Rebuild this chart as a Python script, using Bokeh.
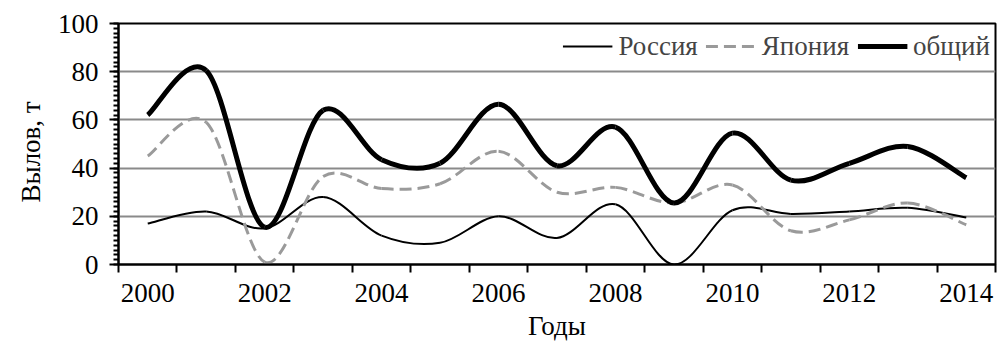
from bokeh.plotting import figure
from bokeh.models import FixedTicker, Legend, LegendItem, ColumnDataSource, Title
from bokeh.embed import file_html
from bokeh.resources import INLINE

years = list(range(2000, 2015))
tick_labels = ["2000", "2002", "2004", "2006", "2008", "2010", "2012", "2014"]
russia = [17, 22, 15, 28, 12, 9, 20, 11, 25, 0, 22.5, 21, 22, 23.5, 19.5]
japan = [45, 59, 1, 36.5, 31.5, 33.5, 47, 30, 32, 25.5, 33, 14, 18.5, 25.5, 16.5]
total = [62, 80.5, 15.5, 64, 43.5, 42, 66.5, 41, 57, 25.5, 54.5, 35, 42, 49, 36]
x_title = "Годы"
y_title = "Вылов, т"

FONT = "'Liberation Serif', 'Times New Roman', serif"
FS = "27px"


def smooth_source(xs, ys):
    n = len(xs)
    d = dict(x0=[], y0=[], x1=[], y1=[], cx0=[], cy0=[], cx1=[], cy1=[])
    for i in range(n - 1):
        pm = max(i - 1, 0)
        pp = min(i + 2, n - 1)
        d["x0"].append(xs[i]); d["y0"].append(ys[i])
        d["x1"].append(xs[i + 1]); d["y1"].append(ys[i + 1])
        d["cx0"].append(xs[i] + (xs[i + 1] - xs[pm]) / 6.0)
        d["cy0"].append(ys[i] + (ys[i + 1] - ys[pm]) / 6.0)
        d["cx1"].append(xs[i + 1] - (xs[pp] - xs[i]) / 6.0)
        d["cy1"].append(ys[i + 1] - (ys[pp] - ys[i]) / 6.0)
    return ColumnDataSource(d)


p = figure(width=1000, height=349, x_range=(1999.5, 2014.5), y_range=(0, 100),
           output_backend="svg", toolbar_location=None,
           min_border_left=118, min_border_right=5, min_border_top=23, min_border_bottom=85)

p.outline_line_color = "black"
p.outline_line_width = 2
p.xgrid.grid_line_color = None
p.ygrid.grid_line_color = "#8a8a8a"
p.ygrid.grid_line_width = 2

p.xaxis.ticker = FixedTicker(ticks=[int(t) for t in tick_labels],
                             minor_ticks=[y - 0.5 for y in years] + [2014.5])
p.xaxis.major_label_overrides = {int(t): t for t in tick_labels}
p.xaxis.major_tick_line_color = None
p.xaxis.major_tick_out = 8
p.xaxis.major_tick_in = 0
p.xaxis.minor_tick_out = 8
p.xaxis.minor_tick_in = 0
p.xaxis.minor_tick_line_width = 2
p.xaxis.major_label_standoff = 11

p.yaxis.ticker = FixedTicker(ticks=list(range(0, 101, 20)), minor_ticks=list(range(0, 101, 2)))
p.yaxis.major_tick_out = 9
p.yaxis.major_tick_in = 0
p.yaxis.minor_tick_out = 5
p.yaxis.minor_tick_in = 0
p.yaxis.major_tick_line_width = 2
p.yaxis.minor_tick_line_width = 2
p.yaxis.major_label_standoff = 11

for ax in (p.xaxis, p.yaxis):
    ax.axis_line_width = 2
    ax.axis_line_color = "black"
    ax.minor_tick_line_color = "black"
    ax.major_label_text_font = FONT
    ax.major_label_text_font_size = FS
    ax.major_label_text_color = "black"
p.yaxis.major_tick_line_color = "black"

p.add_layout(Title(text=x_title, align="center", standoff=9,
                   text_font=FONT, text_font_size=FS, text_font_style="normal",
                   text_color="black"), "below")
p.add_layout(Title(text=y_title, align="left", offset=62, standoff=18,
                   text_font=FONT, text_font_size=FS, text_font_style="normal",
                   text_color="black"), "left")

r_rus = p.bezier(x0="x0", y0="y0", x1="x1", y1="y1", cx0="cx0", cy0="cy0", cx1="cx1", cy1="cy1",
                 source=smooth_source(years, russia), line_color="black", line_width=2)
r_jap = p.bezier(x0="x0", y0="y0", x1="x1", y1="y1", cx0="cx0", cy0="cy0", cx1="cx1", cy1="cy1",
                 source=smooth_source(years, japan), line_color="#9a9a9a", line_width=3,
                 line_dash="12 6")
r_tot = p.bezier(x0="x0", y0="y0", x1="x1", y1="y1", cx0="cx0", cy0="cy0", cx1="cx1", cy1="cy1",
                 source=smooth_source(years, total), line_color="black", line_width=5)

legend = Legend(items=[LegendItem(label="Россия", renderers=[r_rus]),
                       LegendItem(label="Япония", renderers=[r_jap]),
                       LegendItem(label="общий", renderers=[r_tot])],
                location="top_right", orientation="horizontal",
                glyph_width=50, label_standoff=6, spacing=8,
                margin=5, padding=7, label_height=36, glyph_height=36,
                label_text_font=FONT, label_text_font_size=FS,
                border_line_color=None, background_fill_alpha=0)
p.add_layout(legend)

open("out.html", "w").write(file_html(p, INLINE))
